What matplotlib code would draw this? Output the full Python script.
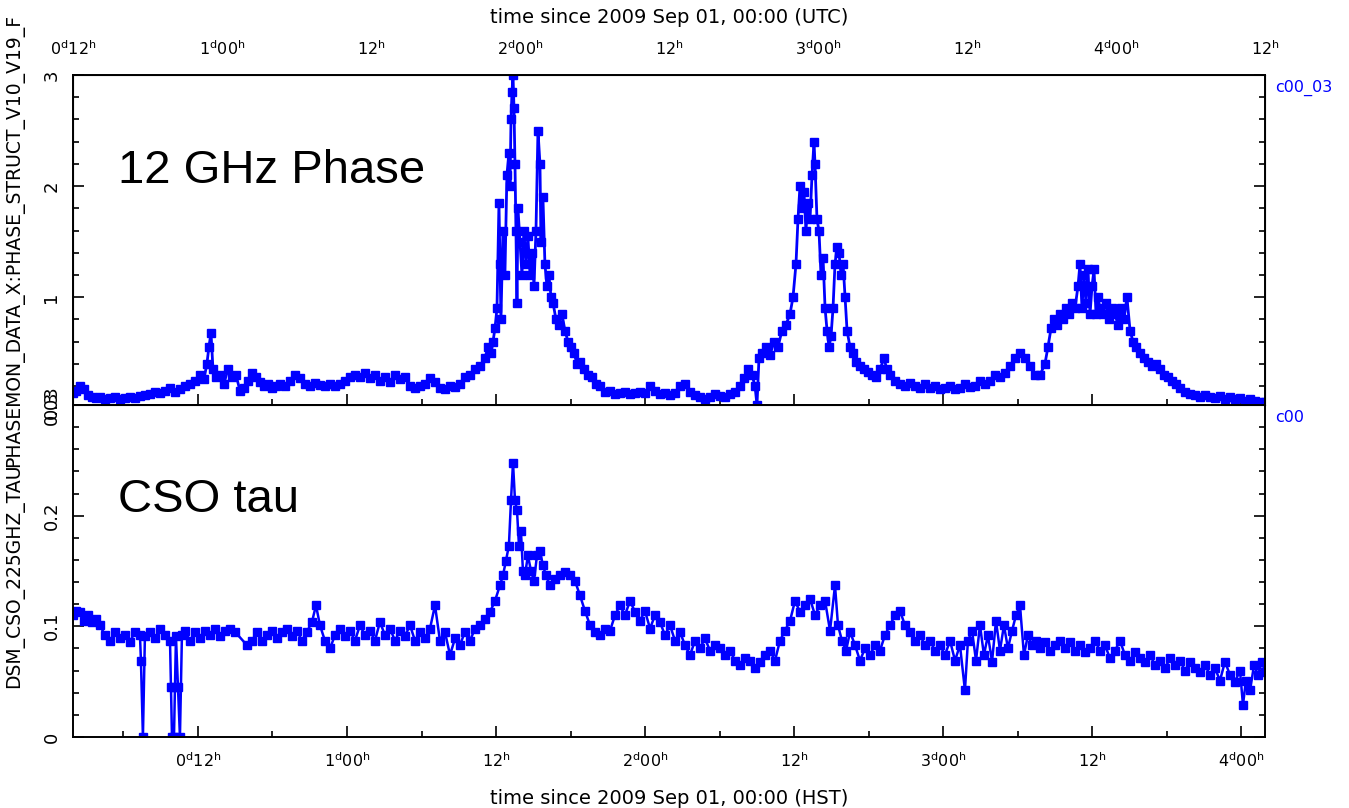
import matplotlib
matplotlib.use("Agg")
import matplotlib.pyplot as plt
from matplotlib.ticker import MultipleLocator, FixedLocator

# phase structure (12 GHz), hours since 2009 Sep 01 00:00 HST
phase_hours = [
    1.94, 2.18, 2.50, 2.82, 3.14, 3.47, 3.79, 4.11, 4.51, 4.92, 5.32, 5.72, 6.12, 6.53,
    6.93, 7.33, 7.73, 8.14, 8.54, 8.94, 9.34, 9.75, 10.15, 10.55, 10.95, 11.36, 11.76,
    12.16, 12.48, 12.72, 12.88, 13.05, 13.21, 13.45, 13.77, 14.09, 14.41, 14.74, 15.06,
    15.38, 15.70, 16.02, 16.35, 16.67, 16.99, 17.31, 17.63, 17.96, 18.28, 18.60, 19.00,
    19.41, 19.81, 20.21, 20.61, 21.02, 21.42, 21.82, 22.22, 22.63, 23.03, 23.43, 23.83,
    24.24, 24.64, 25.04, 25.44, 25.85, 26.25, 26.65, 27.05, 27.46, 27.86, 28.26, 28.66,
    29.07, 29.47, 29.87, 30.27, 30.68, 31.08, 31.48, 31.88, 32.29, 32.69, 33.09, 33.49,
    33.90, 34.30, 34.70, 35.10, 35.34, 35.59, 35.75, 35.91, 36.07, 36.23, 36.31, 36.39,
    36.55, 36.71, 36.87, 37.03, 37.12, 37.20, 37.28, 37.36, 37.44, 37.52, 37.60, 37.68,
    37.76, 37.92, 38.08, 38.24, 38.40, 38.56, 38.73, 38.89, 39.05, 39.21, 39.37, 39.53,
    39.61, 39.77, 39.93, 40.09, 40.25, 40.42, 40.58, 40.82, 41.06, 41.30, 41.54, 41.79,
    42.03, 42.27, 42.51, 42.75, 43.07, 43.39, 43.72, 44.04, 44.36, 44.76, 45.17, 45.57,
    45.97, 46.37, 46.78, 47.18, 47.58, 47.98, 48.39, 48.79, 49.19, 49.59, 50.00, 50.40,
    50.80, 51.20, 51.61, 52.01, 52.41, 52.81, 53.22, 53.62, 54.02, 54.42, 54.83, 55.23,
    55.63, 55.95, 56.27, 56.60, 56.84, 57.00, 57.16, 57.40, 57.72, 58.05, 58.37, 58.69,
    59.01, 59.33, 59.66, 59.90, 60.14, 60.30, 60.46, 60.62, 60.78, 60.94, 61.10, 61.27,
    61.43, 61.59, 61.67, 61.83, 61.99, 62.15, 62.32, 62.48, 62.64, 62.80, 62.96, 63.12,
    63.28, 63.44, 63.60, 63.77, 63.93, 64.09, 64.25, 64.49, 64.73, 64.97, 65.30, 65.62,
    65.94, 66.26, 66.58, 66.90, 67.22, 67.46, 67.71, 68.11, 68.51, 68.91, 69.32, 69.72,
    70.12, 70.52, 70.93, 71.33, 71.73, 72.13, 72.54, 72.94, 73.34, 73.74, 74.15, 74.55,
    74.95, 75.35, 75.76, 76.16, 76.56, 76.96, 77.37, 77.77, 78.17, 78.57, 78.98, 79.38,
    79.78, 80.18, 80.42, 80.67, 80.91, 81.15, 81.39, 81.63, 81.87, 82.11, 82.36, 82.60,
    82.84, 83.00, 83.16, 83.32, 83.48, 83.64, 83.81, 83.97, 84.13, 84.29, 84.45, 84.61,
    84.85, 85.09, 85.33, 85.58, 85.82, 86.06, 86.30, 86.54, 86.78, 87.03, 87.27, 87.51,
    87.83, 88.15, 88.47, 88.80, 89.12, 89.44, 89.76, 90.08, 90.41, 90.73, 91.05, 91.45,
    91.86, 92.26, 92.66, 93.06, 93.47, 93.87, 94.27, 94.67, 95.08, 95.48, 95.88, 96.28,
    96.69, 97.09, 97.49, 97.89,
]
phase_vals = [
    0.14, 0.16, 0.20, 0.17, 0.12, 0.10, 0.09, 0.10, 0.08, 0.09, 0.10, 0.08, 0.09, 0.10,
    0.09, 0.11, 0.12, 0.13, 0.15, 0.14, 0.16, 0.18, 0.15, 0.17, 0.20, 0.22, 0.25,
    0.30, 0.26, 0.40, 0.55, 0.68, 0.35, 0.28, 0.30, 0.22, 0.35, 0.28, 0.30,
    0.16, 0.18, 0.25, 0.32, 0.28, 0.24, 0.20, 0.22, 0.18, 0.20, 0.22, 0.20,
    0.25, 0.30, 0.27, 0.22, 0.20, 0.23, 0.21, 0.20, 0.22, 0.20, 0.22, 0.25,
    0.28, 0.30, 0.28, 0.32, 0.27, 0.30, 0.25, 0.28, 0.24, 0.30, 0.26, 0.28,
    0.20, 0.18, 0.20, 0.22, 0.27, 0.24, 0.18, 0.17, 0.20, 0.19, 0.22, 0.28,
    0.30, 0.35, 0.38, 0.45, 0.55, 0.50, 0.60, 0.72, 0.90, 1.85, 1.30, 0.80,
    1.60, 1.20, 2.10, 2.30, 2.00, 2.60, 2.85, 3.00, 2.70, 2.20, 1.60, 0.95,
    1.80, 1.50, 1.20, 1.60, 1.30, 1.55, 1.20, 1.40, 1.10, 1.60, 2.50, 2.20,
    1.50, 1.90, 1.30, 1.10, 1.20, 1.00, 0.95, 0.80, 0.75, 0.85, 0.70, 0.60,
    0.55, 0.50, 0.40, 0.42, 0.35, 0.30, 0.28, 0.22, 0.20, 0.15, 0.16, 0.13,
    0.14, 0.15, 0.13, 0.14, 0.15, 0.14, 0.20, 0.16, 0.13, 0.14, 0.12, 0.14,
    0.20, 0.22, 0.15, 0.12, 0.10, 0.08, 0.10, 0.13, 0.11, 0.10, 0.13, 0.15,
    0.20, 0.27, 0.35, 0.30, 0.20, 0.03, 0.45, 0.50, 0.55, 0.48, 0.60, 0.55,
    0.70, 0.75, 0.85, 1.00, 1.30, 1.70, 2.00, 1.80, 1.95, 1.60, 1.85, 1.70,
    2.10, 2.40, 2.20, 1.70, 1.60, 1.20, 1.35, 0.90, 0.70, 0.55, 0.65, 0.90,
    1.30, 1.45, 1.40, 1.20, 1.30, 1.00, 0.70, 0.55, 0.50, 0.42, 0.38, 0.35,
    0.33, 0.30, 0.28, 0.35, 0.45, 0.35, 0.30, 0.25, 0.22, 0.20, 0.23, 0.20,
    0.18, 0.22, 0.18, 0.20, 0.17, 0.18, 0.20, 0.17, 0.18, 0.22, 0.19, 0.20,
    0.25, 0.22, 0.25, 0.30, 0.28, 0.32, 0.38, 0.45, 0.50, 0.45, 0.38, 0.30,
    0.30, 0.40, 0.55, 0.72, 0.80, 0.75, 0.85, 0.80, 0.90, 0.85, 0.95, 0.90,
    1.10, 1.30, 0.90, 1.20, 0.95, 1.25, 0.85, 1.10, 1.25, 0.85, 1.00, 0.90,
    0.85, 0.95, 0.80, 0.90, 0.85, 0.75, 0.90, 0.80, 1.00, 0.70, 0.60, 0.55,
    0.50, 0.45, 0.42, 0.38, 0.40, 0.35, 0.30, 0.28, 0.25, 0.22, 0.18, 0.15,
    0.13, 0.12, 0.10, 0.12, 0.10, 0.09, 0.11, 0.08, 0.10, 0.08, 0.09, 0.07,
    0.08, 0.07, 0.06, 0.06,
]

# CSO 225 GHz opacity, same time base
tau_hours = [
    1.94, 2.18, 2.50, 2.82, 3.14, 3.47, 3.79, 4.11, 4.51, 4.92, 5.32, 5.72, 6.12, 6.53,
    6.93, 7.33, 7.41, 7.57, 7.73, 8.14, 8.54, 8.94, 9.34, 9.75, 9.83, 9.91, 10.07, 10.15,
    10.23, 10.39, 10.55, 10.71, 10.95, 11.36, 11.76, 12.16, 12.56, 12.97, 13.37, 13.77,
    14.17, 14.58, 14.98, 15.94, 16.35, 16.75, 17.15, 17.55, 17.96, 18.36, 18.76, 19.16,
    19.57, 19.97, 20.37, 20.77, 21.18, 21.50, 21.82, 22.22, 22.63, 23.03, 23.43, 23.83,
    24.24, 24.64, 25.04, 25.44, 25.85, 26.25, 26.65, 27.05, 27.46, 27.86, 28.26, 28.66,
    29.07, 29.47, 29.87, 30.27, 30.68, 31.08, 31.48, 31.88, 32.29, 32.69, 33.09, 33.49,
    33.90, 34.30, 34.70, 35.10, 35.51, 35.91, 36.31, 36.55, 36.79, 37.03, 37.20, 37.36,
    37.52, 37.68, 37.84, 38.00, 38.16, 38.32, 38.56, 38.81, 39.05, 39.29, 39.53, 39.77,
    40.01, 40.33, 40.74, 41.14, 41.54, 41.94, 42.35, 42.75, 43.15, 43.56, 43.96, 44.36,
    44.76, 45.17, 45.57, 45.97, 46.37, 46.78, 47.18, 47.58, 47.98, 48.39, 48.79, 49.19,
    49.59, 50.00, 50.40, 50.80, 51.20, 51.61, 52.01, 52.41, 52.81, 53.22, 53.62, 54.02,
    54.42, 54.83, 55.23, 55.63, 56.03, 56.43, 56.84, 57.24, 57.64, 58.05, 58.45, 58.85,
    59.25, 59.66, 60.06, 60.46, 60.86, 61.27, 61.67, 62.07, 62.48, 62.88, 63.28, 63.52,
    63.84, 64.17, 64.49, 64.89, 65.29, 65.69, 66.10, 66.50, 66.90, 67.30, 67.71, 68.11,
    68.51, 68.91, 69.32, 69.72, 70.12, 70.52, 70.93, 71.33, 71.73, 72.13, 72.54, 72.94,
    73.34, 73.74, 73.98, 74.31, 74.63, 74.95, 75.27, 75.59, 75.92, 76.24, 76.56, 76.88,
    77.20, 77.53, 77.85, 78.17, 78.49, 78.81, 79.14, 79.46, 79.78, 80.18, 80.59, 80.99,
    81.39, 81.79, 82.20, 82.60, 83.00, 83.40, 83.81, 84.21, 84.61, 85.01, 85.42, 85.82,
    86.22, 86.62, 87.03, 87.43, 87.83, 88.23, 88.64, 89.04, 89.44, 89.84, 90.25, 90.65,
    91.05, 91.45, 91.86, 92.26, 92.66, 93.06, 93.47, 93.87, 94.27, 94.67, 95.08, 95.48,
    95.88, 96.12, 96.36, 96.69, 97.01, 97.33, 97.65, 97.89,
]
tau_vals = [
    0.110, 0.114, 0.113, 0.105, 0.110, 0.104, 0.107, 0.101, 0.092, 0.087, 0.095, 0.089, 0.092, 0.086,
    0.095, 0.092, 0.069, 0.000, 0.091, 0.095, 0.089, 0.098, 0.092, 0.087, 0.045, 0.000, 0.000, 0.045,
    0.091, 0.045, 0.000, 0.092, 0.096, 0.087, 0.095, 0.089, 0.096, 0.092, 0.098, 0.091,
    0.096, 0.098, 0.095, 0.083, 0.087, 0.095, 0.087, 0.092, 0.096, 0.089, 0.095, 0.098,
    0.091, 0.096, 0.087, 0.095, 0.104, 0.119, 0.101, 0.087, 0.080, 0.092, 0.098, 0.091,
    0.096, 0.087, 0.101, 0.092, 0.096, 0.087, 0.104, 0.092, 0.098, 0.087, 0.096, 0.091,
    0.101, 0.087, 0.095, 0.089, 0.098, 0.119, 0.087, 0.095, 0.074, 0.089, 0.083, 0.095,
    0.087, 0.098, 0.101, 0.107, 0.113, 0.123, 0.137, 0.146, 0.159, 0.173, 0.214, 0.248,
    0.214, 0.205, 0.173, 0.186, 0.150, 0.146, 0.164, 0.150, 0.141, 0.164, 0.168, 0.155,
    0.146, 0.137, 0.143, 0.146, 0.149, 0.146, 0.141, 0.128, 0.114, 0.101, 0.095, 0.092,
    0.098, 0.096, 0.110, 0.119, 0.110, 0.123, 0.113, 0.105, 0.114, 0.098, 0.110, 0.104,
    0.092, 0.101, 0.087, 0.095, 0.083, 0.074, 0.087, 0.080, 0.089, 0.078, 0.083, 0.080,
    0.074, 0.078, 0.069, 0.065, 0.071, 0.069, 0.062, 0.068, 0.074, 0.078, 0.069, 0.087,
    0.096, 0.105, 0.123, 0.113, 0.119, 0.125, 0.110, 0.119, 0.123, 0.096, 0.137, 0.101,
    0.087, 0.078, 0.095, 0.083, 0.069, 0.080, 0.074, 0.083, 0.078, 0.092, 0.101, 0.110,
    0.114, 0.101, 0.095, 0.087, 0.092, 0.083, 0.087, 0.078, 0.083, 0.074, 0.087, 0.069,
    0.083, 0.042, 0.087, 0.096, 0.069, 0.101, 0.074, 0.092, 0.068, 0.105, 0.078, 0.101,
    0.080, 0.096, 0.110, 0.119, 0.074, 0.092, 0.083, 0.087, 0.080, 0.086, 0.078, 0.083,
    0.087, 0.080, 0.086, 0.078, 0.083, 0.077, 0.080, 0.087, 0.078, 0.083, 0.071, 0.078,
    0.087, 0.074, 0.069, 0.077, 0.071, 0.068, 0.074, 0.065, 0.069, 0.062, 0.071, 0.065,
    0.069, 0.060, 0.068, 0.062, 0.059, 0.065, 0.056, 0.062, 0.051, 0.068, 0.056, 0.050,
    0.060, 0.029, 0.051, 0.042, 0.065, 0.056, 0.068, 0.059,
]

# tick positions in HST hours; the top axis carries the UTC (= HST + 10 h) names
hst_major = [12, 24, 36, 48, 60, 72, 84, 96]
hst_labels = [r"0$^{\rm d}$12$^{\rm h}$", r"1$^{\rm d}$00$^{\rm h}$", r"12$^{\rm h}$",
              r"2$^{\rm d}$00$^{\rm h}$", r"12$^{\rm h}$", r"3$^{\rm d}$00$^{\rm h}$",
              r"12$^{\rm h}$", r"4$^{\rm d}$00$^{\rm h}$"]
utc_pos = [2, 14, 26, 38, 50, 62, 74, 86, 98]
utc_labels = [r"0$^{\rm d}$12$^{\rm h}$", r"1$^{\rm d}$00$^{\rm h}$", r"12$^{\rm h}$",
              r"2$^{\rm d}$00$^{\rm h}$", r"12$^{\rm h}$", r"3$^{\rm d}$00$^{\rm h}$",
              r"12$^{\rm h}$", r"4$^{\rm d}$00$^{\rm h}$", r"12$^{\rm h}$"]

t_min, t_max = 1.94, 97.89
blue = "#0000ff"
fs = 11.5
fs_lab = 14
fs_y = 13

fig = plt.figure(figsize=(13.49, 8.08), dpi=100)
ax1 = fig.add_axes([0.0541, 0.4988, 0.8836, 0.4084])
ax2 = fig.add_axes([0.0541, 0.0879, 0.8836, 0.4109])


def style_axis(ax):
    for sp in ax.spines.values():
        sp.set_linewidth(1.4)
    ax.set_xlim(t_min, t_max)
    ax.xaxis.set_major_locator(FixedLocator(hst_major))
    ax.xaxis.set_minor_locator(MultipleLocator(6))
    ax.tick_params(which="both", direction="in", left=True, right=True, width=1.2,
                   labelsize=fs)
    ax.tick_params(which="major", length=8)
    ax.tick_params(which="minor", length=4)
    ax.tick_params(axis="y", pad=9, labelsize=fs_y)


ax1.plot(phase_hours, phase_vals, "-s", color=blue, lw=2.0, ms=5.8, mec=blue, mfc=blue)
style_axis(ax1)
ax1.set_ylim(0.03, 3.0)
ax1.set_yticks([0.03, 1, 2, 3])
ax1.set_yticklabels(["0.03", "1", "2", "3"], rotation=90, va="center", ha="right")
ax1.yaxis.set_minor_locator(MultipleLocator(0.2))
ax1.tick_params(axis="x", which="both", top=True, bottom=True, labelbottom=False)

# UTC names along the top of the upper panel
ax_top = ax1.twiny()
ax_top.set_xlim(t_min, t_max)
ax_top.set_xticks(utc_pos)
ax_top.set_xticklabels(utc_labels)
ax_top.tick_params(axis="x", length=0, pad=12, labelsize=fs)
ax_top.set_xlabel("time since 2009 Sep 01, 00:00 (UTC)", fontsize=fs_lab, labelpad=12)

ax2.plot(tau_hours, tau_vals, "-s", color=blue, lw=1.8, ms=5.2, mec=blue, mfc=blue)
style_axis(ax2)
ax2.set_ylim(0, 0.3)
ax2.set_yticks([0, 0.1, 0.2, 0.3])
ax2.set_yticklabels(["0", "0.1", "0.2", "0.3"], rotation=90, va="center", ha="right")
ax2.yaxis.set_minor_locator(MultipleLocator(0.02))
ax2.set_xticklabels(hst_labels)
ax2.tick_params(axis="x", which="both", top=False, bottom=True, pad=10)
ax2.set_xlabel("time since 2009 Sep 01, 00:00 (HST)", fontsize=fs_lab, labelpad=14)

fig.text(0.011, 0.703, "PHASEMON_DATA_X:PHASE_STRUCT_V10_V19_F", rotation=90,
         ha="center", va="center", fontsize=13.5)
fig.text(0.011, 0.287, "DSM_CSO_225GHZ_TAU", rotation=90,
         ha="center", va="center", fontsize=13.5)

fig.text(0.945, 0.891, "c00_03", color=blue, fontsize=fs, va="center")
fig.text(0.945, 0.483, "c00", color=blue, fontsize=fs, va="center")

fig.text(0.0875, 0.7735, "12 GHz Phase", fontsize=34, family="Liberation Sans",
         va="baseline")
fig.text(0.0875, 0.3663, "CSO tau", fontsize=34, family="Liberation Sans",
         va="baseline")

fig.savefig("out.png", dpi=100)
